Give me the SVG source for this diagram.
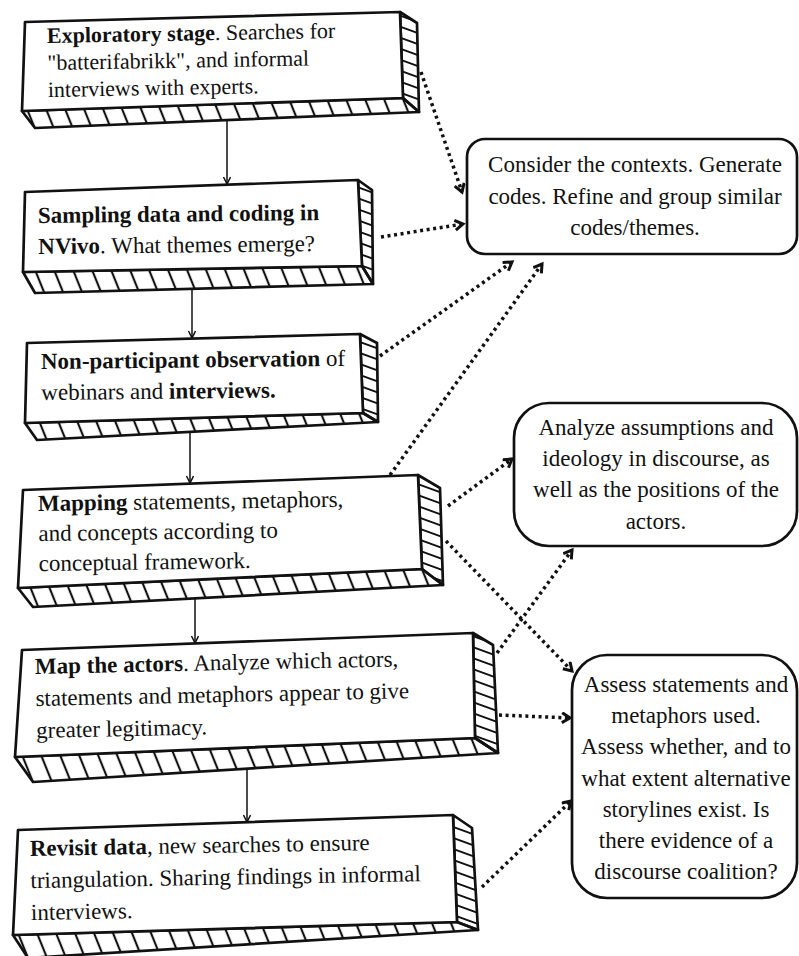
<svg xmlns="http://www.w3.org/2000/svg" width="799" height="956" viewBox="0 0 799 956">
<style>
.t{font-family:"Liberation Serif","Times New Roman",serif;font-size:23px;fill:#111}
.s{font-size:22px}
.b{font-weight:bold}
.face{fill:#fff;stroke:#111;stroke-width:2.7;stroke-linejoin:round}
.hb{fill:url(#hb);stroke:#111;stroke-width:2.7;stroke-linejoin:round}
.hr{fill:url(#hr);stroke:#111;stroke-width:2.7;stroke-linejoin:round}
.rb{fill:#fff;stroke:#111;stroke-width:2.7}
.solid{stroke:#111;stroke-width:1.5;fill:none;marker-end:url(#a)}
.dot{stroke:#111;stroke-width:3.5;fill:none;stroke-dasharray:3 3.6;marker-end:url(#d)}
</style>
<defs>
<pattern id="hb" patternUnits="userSpaceOnUse" width="19" height="100" patternTransform="skewX(22)">
<line x1="2" y1="0" x2="2" y2="100" stroke="#111" stroke-width="2.3"/>
</pattern>
<pattern id="hr" patternUnits="userSpaceOnUse" width="100" height="11" patternTransform="skewY(20)">
<line x1="0" y1="2" x2="100" y2="2" stroke="#111" stroke-width="2.2"/>
</pattern>
<marker id="a" markerUnits="userSpaceOnUse" markerWidth="10" markerHeight="10" refX="8" refY="4" orient="auto">
<path d="M1,0.5 L8,4 L1,7.5" fill="none" stroke="#111" stroke-width="1.5"/>
</marker>
<marker id="d" markerUnits="userSpaceOnUse" markerWidth="14" markerHeight="14" refX="10" refY="6" orient="auto">
<path d="M2,1 L10,6 L2,11" fill="none" stroke="#111" stroke-width="3"/>
</marker>
</defs>
<rect width="799" height="956" fill="#fff"/>

<g id="connectors">
<line class="solid" x1="227" y1="121" x2="227" y2="184"/>
<line class="solid" x1="192" y1="289" x2="192" y2="338"/>
<line class="solid" x1="190" y1="432" x2="190" y2="483"/>
<line class="solid" x1="195" y1="597" x2="195" y2="643"/>
<line class="solid" x1="247" y1="769" x2="247" y2="822"/>
<line class="dot" x1="421" y1="72" x2="462" y2="192"/>
<line class="dot" x1="381" y1="237" x2="463" y2="224"/>
<line class="dot" x1="380" y1="356" x2="512" y2="262"/>
<line class="dot" x1="390" y1="475" x2="542" y2="264"/>
<line class="dot" x1="448" y1="506" x2="512" y2="459"/>
<line class="dot" x1="446" y1="541" x2="572" y2="671"/>
<line class="dot" x1="497" y1="653" x2="572" y2="550"/>
<line class="dot" x1="499" y1="715" x2="570" y2="718"/>
<line class="dot" x1="482" y1="887" x2="571" y2="801"/>
</g>

<g id="n1">
<polygon class="hb" points="22,111 403,98 419,112 35,128"/>
<polygon class="hr" points="400,12 417,23 419,112 403,98"/>
<polygon class="face" points="25,22 400,12 403,98 22,111"/>
<g transform="rotate(-1 47 43)">
<text class="t s" x="47" y="43"><tspan class="b">Exploratory stage</tspan>. Searches for</text>
<text class="t s" x="47" y="70">"batterifabrikk", and informal</text>
<text class="t s" x="47" y="97">interviews with experts.</text>
</g>
</g>

<g id="n2">
<polygon class="hb" points="23,272 362,266 373,284 35,293"/>
<polygon class="hr" points="358,180 372,190 373,284 362,266"/>
<polygon class="face" points="25,192 358,180 362,266 23,272"/>
<g transform="rotate(-0.6 38 223)">
<text class="t" x="38" y="223"><tspan class="b">Sampling data and coding in</tspan></text>
<text class="t" x="38" y="254"><tspan class="b">NVivo</tspan>. What themes emerge?</text>
</g>
</g>

<g id="n3">
<polygon class="hb" points="25,423 363,413 378,422 37,440"/>
<polygon class="hr" points="360,334 377,343 378,422 363,413"/>
<polygon class="face" points="27,343 360,334 363,413 25,423"/>
<g transform="rotate(-0.6 41 369)">
<text class="t" x="41" y="369"><tspan class="b">Non-participant observation</tspan> of</text>
<text class="t" x="41" y="400">webinars and <tspan class="b">interviews.</tspan></text>
</g>
</g>

<g id="n4">
<polygon class="hb" points="18,588 422,569 443,585 33,607"/>
<polygon class="hr" points="418,475 440,488 443,585 422,569"/>
<polygon class="face" points="23,490 418,475 422,569 18,588"/>
<g transform="rotate(-0.8 38 511)">
<text class="t" x="38" y="511"><tspan class="b">Mapping</tspan> statements, metaphors,</text>
<text class="t" x="38" y="541">and concepts according to</text>
<text class="t" x="38" y="571">conceptual framework.</text>
</g>
</g>

<g id="n5">
<polygon class="hb" points="15,757 475,738 498,753 33,782"/>
<polygon class="hr" points="473,633 493,645 498,753 475,738"/>
<polygon class="face" points="22,650 473,633 475,738 15,757"/>
<g transform="rotate(-1.2 35 674)">
<text class="t" x="35" y="674"><tspan class="b">Map the actors</tspan>. Analyze which actors,</text>
<text class="t" x="35" y="706">statements and metaphors appear to give</text>
<text class="t" x="35" y="738">greater legitimacy.</text>
</g>
</g>

<g id="n6">
<polygon class="hb" points="13,935 457,922 478,930 28,958"/>
<polygon class="hr" points="453,815 472,828 478,930 457,922"/>
<polygon class="face" points="18,830 453,815 457,922 13,935"/>
<g transform="rotate(-1 30 856)">
<text class="t" x="30" y="856"><tspan class="b">Revisit data</tspan>, new searches to ensure</text>
<text class="t" x="30" y="888">triangulation. Sharing findings in informal</text>
<text class="t" x="30" y="920">interviews.</text>
</g>
</g>

<g id="r1">
<rect class="rb" x="467" y="139" width="330" height="115" rx="18"/>
<g text-anchor="middle">
<text class="t" x="635" y="172">Consider the contexts. Generate</text>
<text class="t" x="635" y="204">codes. Refine and group similar</text>
<text class="t" x="635" y="235">codes/themes.</text>
</g>
</g>

<g id="r2">
<rect class="rb" x="514" y="403" width="283" height="143" rx="35"/>
<g text-anchor="middle">
<text class="t" x="656" y="435">Analyze assumptions and</text>
<text class="t" x="656" y="466">ideology in discourse, as</text>
<text class="t" x="656" y="497">well as the positions of the</text>
<text class="t" x="656" y="529">actors.</text>
</g>
</g>

<g id="r3">
<rect class="rb" x="572" y="655" width="225" height="243" rx="35"/>
<g text-anchor="middle">
<text class="t" x="686" y="692">Assess statements and</text>
<text class="t" x="686" y="723">metaphors used.</text>
<text class="t" x="686" y="754">Assess whether, and to</text>
<text class="t" x="686" y="786">what extent alternative</text>
<text class="t" x="686" y="817">storylines exist. Is</text>
<text class="t" x="686" y="848">there evidence of a</text>
<text class="t" x="686" y="879">discourse coalition?</text>
</g>
</g>
</svg>
